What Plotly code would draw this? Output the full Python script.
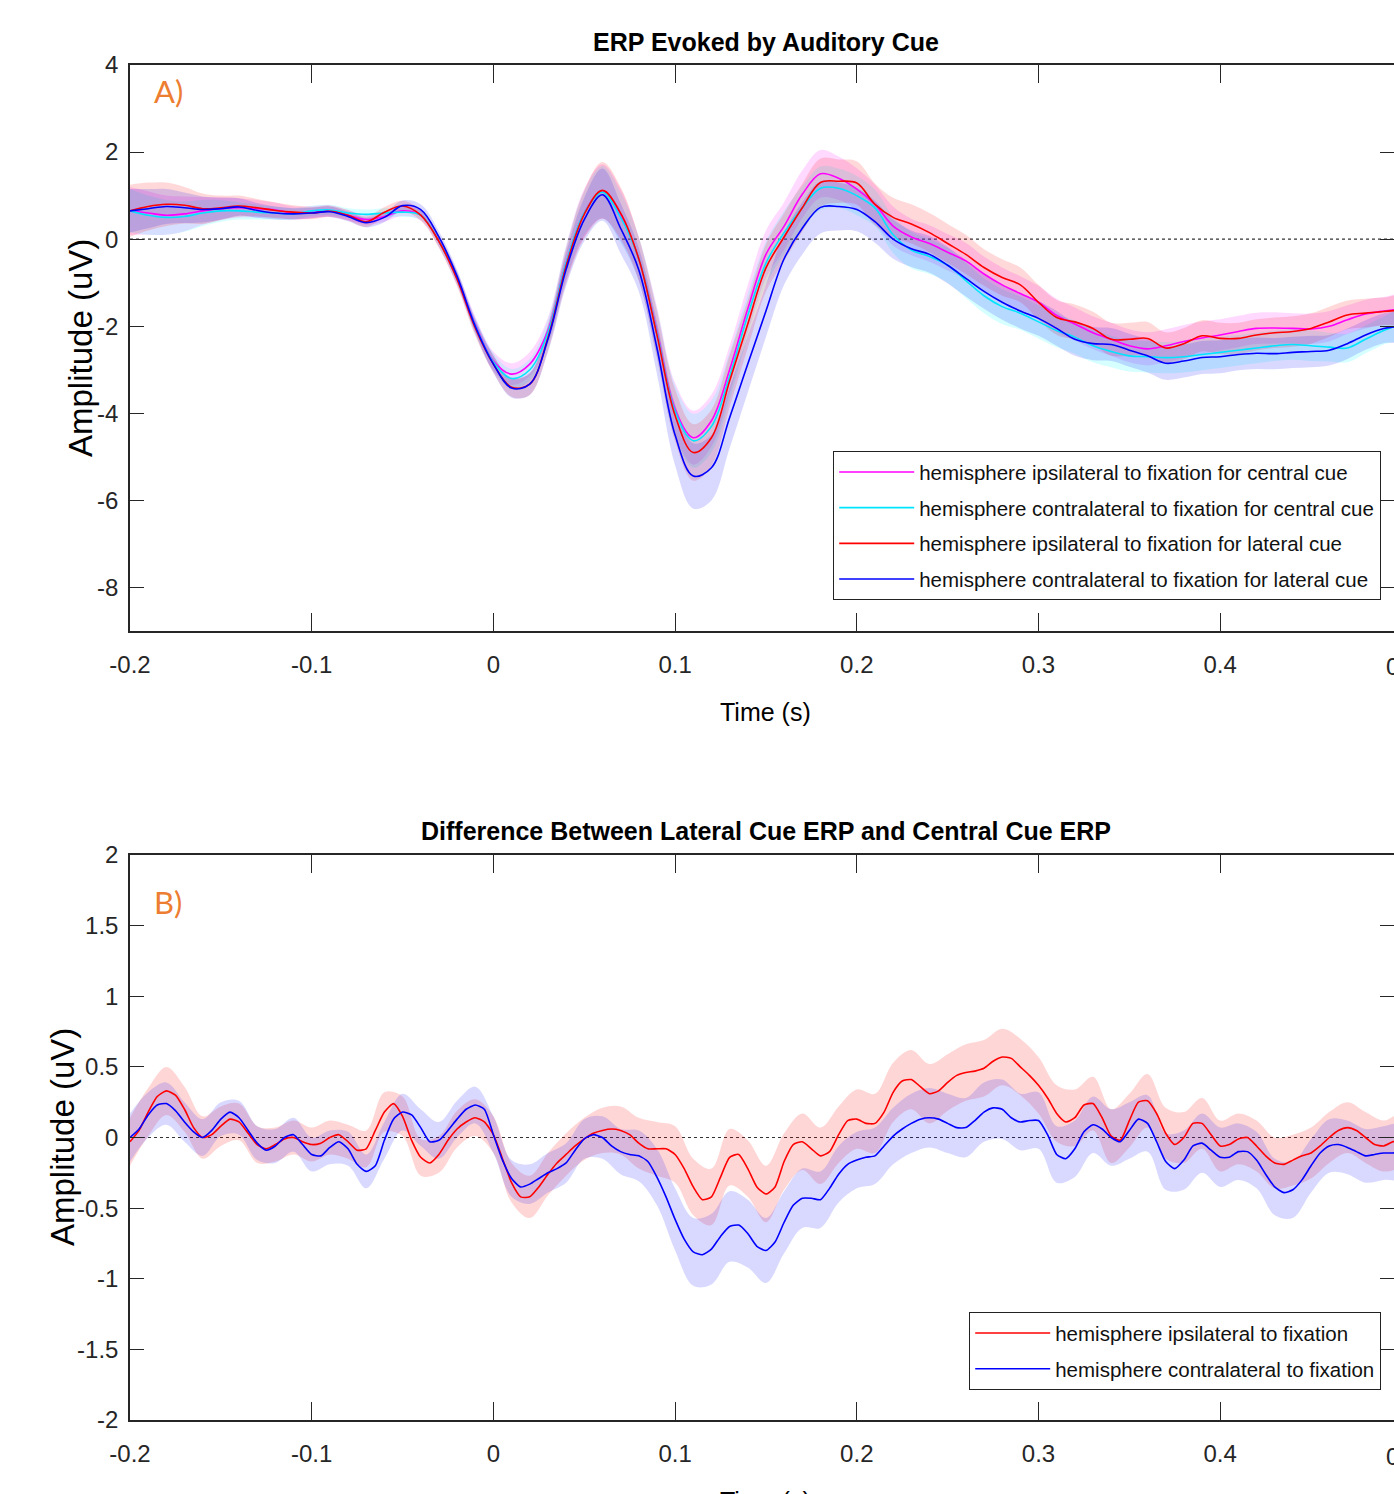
import numpy as np
import plotly.graph_objects as go

# ---------------- data ----------------
time_top = np.round(np.linspace(-0.2, 0.5, 71), 3)     # 10 ms grid
time_diff = np.round(np.linspace(-0.2, 0.5, 141), 3)   # 5 ms grid
time_diff_se = np.round(np.linspace(-0.2, 0.5, 71), 3)

ipsi_central = [0.65,0.60,0.55,0.58,0.65,0.70,0.72,0.70,0.67,0.60,
                0.62,0.65,0.55,0.45,0.52,0.65,0.55,-0.05,-0.90,-1.95,
                -2.80,-3.10,-2.87,-2.10,-0.55,0.60,1.10,0.55,-0.45,-2.10,
                -3.90,-4.56,-4.17,-3.00,-1.60,-0.35,0.30,1.03,1.50,1.40,
                1.15,0.80,0.30,0.05,-0.10,-0.30,-0.50,-0.80,-1.05,-1.25,
                -1.45,-1.75,-1.95,-2.15,-2.30,-2.45,-2.52,-2.45,-2.35,-2.27,
                -2.20,-2.12,-2.05,-2.04,-2.05,-2.06,-2.00,-1.85,-1.72,-1.65,-1.60]
contra_central = [0.65,0.55,0.50,0.52,0.60,0.65,0.65,0.62,0.60,0.58,
                  0.65,0.67,0.60,0.57,0.60,0.62,0.55,-0.05,-0.90,-1.98,
                  -2.82,-3.20,-3.00,-2.15,-0.55,0.60,1.08,0.50,-0.45,-2.15,
                  -3.95,-4.63,-4.30,-3.15,-1.75,-0.55,0.15,0.72,1.17,1.17,
                  1.00,0.72,0.10,-0.25,-0.40,-0.60,-0.95,-1.30,-1.55,-1.70,
                  -1.90,-2.10,-2.25,-2.45,-2.58,-2.68,-2.70,-2.72,-2.70,-2.65,
                  -2.60,-2.55,-2.50,-2.45,-2.42,-2.45,-2.48,-2.50,-2.30,-2.10,-1.95]
ipsi_lateral = [0.65,0.75,0.80,0.78,0.70,0.72,0.76,0.72,0.66,0.62,
                0.60,0.64,0.55,0.40,0.62,0.76,0.55,-0.05,-0.92,-2.04,
                -2.87,-3.40,-3.33,-2.27,-0.62,0.57,1.12,0.60,-0.45,-2.20,
                -4.05,-4.90,-4.56,-3.26,-1.95,-0.66,0.05,0.72,1.30,1.33,
                1.29,0.80,0.50,0.35,0.15,-0.10,-0.35,-0.65,-0.88,-1.05,
                -1.45,-1.80,-1.90,-2.05,-2.30,-2.30,-2.28,-2.50,-2.40,-2.22,
                -2.28,-2.28,-2.20,-2.15,-2.12,-2.05,-1.90,-1.74,-1.70,-1.66,-1.63]
contra_lateral = [0.65,0.70,0.75,0.72,0.68,0.70,0.74,0.66,0.60,0.58,
                  0.60,0.63,0.52,0.38,0.50,0.77,0.68,0.05,-0.85,-2.00,
                  -2.87,-3.42,-3.33,-2.30,-0.70,0.45,1.02,0.25,-0.70,-2.50,
                  -4.50,-5.44,-5.25,-4.10,-2.87,-1.65,-0.45,0.25,0.73,0.75,
                  0.68,0.40,0.00,-0.22,-0.35,-0.60,-0.90,-1.20,-1.45,-1.65,
                  -1.82,-2.05,-2.30,-2.40,-2.42,-2.55,-2.68,-2.85,-2.80,-2.72,
                  -2.70,-2.65,-2.62,-2.63,-2.60,-2.58,-2.55,-2.40,-2.20,-2.05,-2.00]

se_ipsi_central = [0.55,0.50,0.45,0.40,0.32,0.26,0.22,0.20,0.17,0.15,
                   0.14,0.13,0.12,0.12,0.12,0.12,0.12,0.14,0.16,0.18,
                   0.22,0.25,0.28,0.30,0.40,0.55,0.62,0.60,0.50,0.55,
                   0.60,0.62,0.60,0.55,0.55,0.55,0.55,0.55,0.55,0.50,
                   0.48,0.45,0.45,0.42,0.42,0.42,0.42,0.40,0.40,0.40,
                   0.38,0.38,0.38,0.38,0.38,0.38,0.38,0.38,0.38,0.38,
                   0.36,0.36,0.36,0.36,0.35,0.35,0.35,0.33,0.33,0.32,0.32]
se_contra_central = [0.50,0.45,0.40,0.35,0.30,0.25,0.20,0.17,0.15,0.13,
                     0.12,0.12,0.11,0.11,0.11,0.11,0.11,0.13,0.15,0.17,
                     0.20,0.22,0.25,0.30,0.38,0.50,0.60,0.58,0.50,0.55,
                     0.60,0.62,0.60,0.55,0.50,0.50,0.50,0.50,0.50,0.45,
                     0.45,0.42,0.42,0.42,0.40,0.40,0.40,0.40,0.40,0.38,
                     0.38,0.38,0.38,0.38,0.36,0.36,0.36,0.36,0.36,0.36,
                     0.36,0.35,0.35,0.35,0.35,0.35,0.33,0.33,0.32,0.32,0.32]
se_ipsi_lateral = [0.60,0.55,0.50,0.42,0.35,0.28,0.24,0.20,0.18,0.16,
                   0.14,0.13,0.12,0.12,0.12,0.12,0.12,0.14,0.16,0.18,
                   0.20,0.22,0.25,0.30,0.40,0.55,0.65,0.60,0.50,0.55,
                   0.60,0.65,0.65,0.60,0.55,0.55,0.55,0.55,0.55,0.50,
                   0.50,0.48,0.45,0.45,0.45,0.45,0.45,0.42,0.42,0.40,
                   0.40,0.40,0.40,0.38,0.38,0.38,0.38,0.36,0.36,0.36,
                   0.36,0.36,0.36,0.35,0.35,0.35,0.35,0.33,0.33,0.32,0.32]
se_contra_lateral = [0.50,0.45,0.40,0.35,0.30,0.25,0.20,0.17,0.15,0.13,
                     0.12,0.12,0.11,0.11,0.11,0.12,0.12,0.13,0.15,0.17,
                     0.20,0.22,0.25,0.30,0.38,0.50,0.60,0.58,0.50,0.60,
                     0.70,0.75,0.75,0.70,0.65,0.60,0.60,0.60,0.60,0.55,
                     0.50,0.48,0.45,0.42,0.42,0.42,0.42,0.40,0.40,0.40,
                     0.40,0.40,0.38,0.38,0.38,0.38,0.38,0.38,0.38,0.38,
                     0.38,0.36,0.36,0.36,0.36,0.36,0.35,0.35,0.34,0.34,0.34]

diff_ipsi = [-0.03,0.05,0.18,0.29,0.33,0.30,0.20,0.07,0.00,0.02,
             0.08,0.13,0.11,0.03,-0.05,-0.08,-0.05,-0.01,0.00,-0.03,
             -0.05,-0.04,0.00,0.02,-0.03,-0.09,-0.08,0.05,0.18,0.24,
             0.15,-0.02,-0.14,-0.18,-0.12,-0.02,0.06,0.11,0.14,0.11,
             0.02,-0.15,-0.32,-0.42,-0.42,-0.35,-0.26,-0.18,-0.12,-0.06,
             -0.01,0.03,0.05,0.06,0.05,0.02,-0.04,-0.08,-0.08,-0.08,
             -0.12,-0.22,-0.35,-0.44,-0.42,-0.28,-0.14,-0.12,-0.22,-0.35,
             -0.40,-0.35,-0.17,-0.05,-0.03,-0.08,-0.13,-0.10,0.02,0.12,
             0.13,0.10,0.10,0.18,0.32,0.40,0.41,0.36,0.31,0.33,
             0.39,0.44,0.46,0.47,0.49,0.54,0.57,0.56,0.50,0.44,
             0.37,0.28,0.17,0.11,0.14,0.23,0.24,0.14,0.01,-0.02,
             0.12,0.25,0.26,0.17,0.03,-0.05,0.00,0.10,0.10,0.02,
             -0.06,-0.05,-0.01,0.00,-0.06,-0.13,-0.18,-0.19,-0.16,-0.13,
             -0.11,-0.06,0.00,0.05,0.07,0.05,0.00,-0.05,-0.06,-0.03,-0.01]
diff_contra = [0.00,0.06,0.16,0.23,0.24,0.19,0.11,0.04,0.00,0.05,
               0.13,0.18,0.14,0.05,-0.04,-0.09,-0.06,0.00,0.02,-0.05,
               -0.12,-0.13,-0.07,-0.03,-0.08,-0.19,-0.24,-0.20,-0.02,0.13,
               0.18,0.16,0.07,-0.03,-0.02,0.05,0.13,0.20,0.23,0.20,
               0.02,-0.16,-0.29,-0.35,-0.33,-0.29,-0.25,-0.22,-0.18,-0.09,
               -0.01,0.02,0.00,-0.06,-0.10,-0.12,-0.13,-0.17,-0.28,-0.42,
               -0.58,-0.72,-0.81,-0.83,-0.79,-0.70,-0.63,-0.62,-0.68,-0.77,
               -0.80,-0.74,-0.60,-0.48,-0.43,-0.43,-0.44,-0.36,-0.26,-0.19,
               -0.16,-0.14,-0.13,-0.06,0.01,0.06,0.10,0.13,0.14,0.13,
               0.10,0.07,0.07,0.12,0.18,0.21,0.20,0.14,0.11,0.12,
               0.12,0.02,-0.12,-0.15,-0.08,0.04,0.09,0.06,0.00,-0.03,
               0.05,0.13,0.10,-0.03,-0.17,-0.22,-0.16,-0.06,-0.04,-0.09,
               -0.14,-0.14,-0.10,-0.10,-0.16,-0.26,-0.35,-0.39,-0.37,-0.30,
               -0.20,-0.11,-0.06,-0.05,-0.07,-0.10,-0.13,-0.12,-0.11,-0.11,-0.10]
se_diff_ipsi = [0.17,0.17,0.17,0.16,0.15,0.14,0.13,0.13,0.12,0.12,
                0.12,0.12,0.12,0.13,0.14,0.14,0.13,0.13,0.13,0.13,
                0.13,0.14,0.15,0.15,0.15,0.15,0.16,0.17,0.18,0.19,
                0.20,0.20,0.20,0.20,0.20,0.20,0.20,0.20,0.20,0.20,
                0.21,0.21,0.21,0.21,0.21,0.20,0.20,0.20,0.20,0.20,
                0.20,0.20,0.20,0.19,0.19,0.19,0.19,0.18,0.18,0.18,
                0.18,0.18,0.18,0.18,0.18,0.18,0.18,0.18,0.18,0.18,0.18]
se_diff_contra = [0.17,0.16,0.15,0.14,0.13,0.12,0.12,0.12,0.12,0.12,
                  0.12,0.12,0.12,0.12,0.13,0.13,0.13,0.13,0.13,0.13,
                  0.13,0.13,0.14,0.14,0.14,0.14,0.15,0.16,0.18,0.20,
                  0.22,0.24,0.25,0.25,0.24,0.23,0.22,0.21,0.20,0.20,
                  0.20,0.20,0.20,0.21,0.21,0.21,0.21,0.21,0.21,0.20,
                  0.20,0.20,0.20,0.20,0.20,0.20,0.20,0.20,0.21,0.21,
                  0.21,0.20,0.20,0.20,0.20,0.19,0.19,0.19,0.19,0.19,0.19]

x_ticks = [-0.2, -0.1, 0, 0.1, 0.2, 0.3, 0.4]
x_ticktext = ["-0.2", "-0.1", "0", "0.1", "0.2", "0.3", "0.4"]
y_ticks_top = [-8, -6, -4, -2, 0, 2, 4]
y_ticktext_top = ["-8", "-6", "-4", "-2", "0", "2", "4"]
y_ticks_bottom = [-2, -1.5, -1, -0.5, 0, 0.5, 1, 1.5, 2]
y_ticktext_bottom = ["-2", "-1.5", "-1", "-0.5", "0", "0.5", "1", "1.5", "2"]

top_names = ["hemisphere ipsilateral to fixation for central cue",
             "hemisphere contralateral to fixation for central cue",
             "hemisphere ipsilateral to fixation for lateral cue",
             "hemisphere contralateral to fixation for lateral cue"]
bottom_names = ["hemisphere ipsilateral to fixation",
                "hemisphere contralateral to fixation"]

# ---------------- style ----------------
W, H = 1394, 1494
L = 130
SANS = "Liberation Sans, Arial, Helvetica, sans-serif"
AXC = "#262626"
px_per_unit_x = 1817.0
x_max = -0.2 + (W - L) / px_per_unit_x

def band(x, mean, se, color):
    x = list(x)
    up = [m + s for m, s in zip(mean, se)]
    lo = [m - s for m, s in zip(mean, se)]
    return go.Scatter(x=x + x[::-1], y=up + lo[::-1], fill="toself",
                      fillcolor=color, line=dict(width=0, shape="spline"),
                      mode="lines", hoverinfo="skip", showlegend=False)

fig = go.Figure()

top_series = [ipsi_central, contra_central, ipsi_lateral, contra_lateral]
top_se = [se_ipsi_central, se_contra_central, se_ipsi_lateral, se_contra_lateral]
top_line_colors = ["#FF00FF", "#00E5FF", "#FF0000", "#0000FF"]
top_band_colors = ["rgba(255,0,255,0.15)", "rgba(0,255,255,0.16)",
                   "rgba(255,0,0,0.15)", "rgba(0,0,255,0.15)"]

for s, e, c in zip(top_series, top_se, top_band_colors):
    tr = band(time_top, s, e, c)
    tr.update(xaxis="x", yaxis="y")
    fig.add_trace(tr)
for i, (s, c, n) in enumerate(zip(top_series, top_line_colors, top_names)):
    fig.add_trace(go.Scatter(x=time_top, y=s, mode="lines", name=n,
                             line=dict(color=c, width=1.6, shape="spline"),
                             xaxis="x", yaxis="y", legend="legend",
                             legendgroup=f"top{i}"))

diff_series = [diff_ipsi, diff_contra]
diff_se = [se_diff_ipsi, se_diff_contra]
diff_line_colors = ["#FF0000", "#0000FF"]
diff_band_colors = ["rgba(255,0,0,0.16)", "rgba(0,0,255,0.15)"]
for s, e, c in zip(diff_series, diff_se, diff_band_colors):
    tr = band(time_diff_se, s[::2], e, c)
    tr.update(xaxis="x2", yaxis="y2")
    fig.add_trace(tr)
for i, (s, c, n) in enumerate(zip(diff_series, diff_line_colors, bottom_names)):
    fig.add_trace(go.Scatter(x=time_diff, y=s, mode="lines", name=n,
                             line=dict(color=c, width=1.6, shape="spline", smoothing=0.6),
                             xaxis="x2", yaxis="y2", legend="legend2",
                             legendgroup=f"diff{i}"))

axis_common = dict(showline=True, linecolor=AXC, linewidth=1.5, mirror="ticks",
                   ticks="inside", tickcolor=AXC, tickwidth=1.3,
                   showgrid=False, zeroline=False, automargin=False,
                   tickfont=dict(family=SANS, size=24, color=AXC))

top_dom = [1 - 631 / H, 1 - 65 / H]
bot_dom = [1 - 1420 / H, 1 - 855 / H]

legend_common = dict(xanchor="right", yanchor="top",
                     bgcolor="white", bordercolor="#222", borderwidth=1.2,
                     font=dict(family=SANS, size=20.5, color="#111"),
                     tracegroupgap=6, itemwidth=75)

fig.update_layout(
    width=W, height=H,
    margin=dict(l=L, r=0, t=0, b=0, autoexpand=False),
    paper_bgcolor="white", plot_bgcolor="white",
    xaxis=dict(domain=[0, 1], range=[-0.2, x_max], anchor="y",
               tickvals=x_ticks, ticktext=x_ticktext, ticklen=18,
               ticklabelstandoff=11, **axis_common),
    yaxis=dict(domain=top_dom, range=[-9, 4], anchor="x",
               tickvals=y_ticks_top, ticktext=y_ticktext_top, ticklen=14,
               ticklabelstandoff=5, **axis_common),
    xaxis2=dict(domain=[0, 1], range=[-0.2, x_max], anchor="y2",
                tickvals=x_ticks, ticktext=x_ticktext, ticklen=18,
                ticklabelstandoff=11, **axis_common),
    yaxis2=dict(domain=bot_dom, range=[-2, 2], anchor="x2",
                tickvals=y_ticks_bottom, ticktext=y_ticktext_bottom,
                ticklen=14, ticklabelstandoff=5, **axis_common),
    legend=dict(x=(1381 - L) / (W - L), y=1 - 451 / H, **legend_common),
    legend2=dict(x=(1381 - L) / (W - L), y=1 - 1312 / H, **legend_common),
    showlegend=True,
)

# zero reference lines (dotted)
for xr, yr in [("x", "y"), ("x2", "y2")]:
    fig.add_shape(type="line", xref=f"{xr} domain", yref=yr, x0=0, x1=1, y0=0, y1=0,
                  line=dict(color="#333", width=1.2, dash="dot"), layer="below")

cx = (765.5 - L) / (W - L)
ann = [
    dict(text="<b>ERP Evoked by Auditory Cue</b>", x=cx, y=1 - 42 / H,
         font=dict(family=SANS, size=25, color="black")),
    dict(text="<b>Difference Between Lateral Cue ERP and Central Cue ERP</b>", x=cx, y=1 - 831 / H,
         font=dict(family=SANS, size=25, color="black")),
    dict(text="Time (s)", x=cx, y=1 - 712 / H,
         font=dict(family=SANS, size=25, color="black")),
    dict(text="Time (s)", x=cx, y=1 - 1501 / H,
         font=dict(family=SANS, size=25, color="black")),
    dict(text="0.5", x=(1402 - L) / (W - L), y=1 - 666 / H,
         font=dict(family=SANS, size=24, color=AXC)),
    dict(text="0.5", x=(1402 - L) / (W - L), y=1 - 1456 / H,
         font=dict(family=SANS, size=24, color=AXC)),
]
for a in ann:
    fig.add_annotation(xref="paper", yref="paper", showarrow=False,
                       xanchor="center", yanchor="middle", **a)

for txt, xc, yc in [("Amplitude (uV)", 80, 348), ("Amplitude (uV)", 62, 1137)]:
    fig.add_annotation(text=txt, xref="paper", yref="paper",
                       x=(xc - L) / (W - L), y=1 - yc / H, textangle=-90,
                       showarrow=False, xanchor="center", yanchor="middle",
                       font=dict(family=SANS, size=33, color="black"))

for txt, yc in [("A)", 91), ("B)", 902)]:
    fig.add_annotation(text=txt, xref="paper", yref="paper",
                       x=(152 - L) / (W - L), y=1 - yc / H, showarrow=False,
                       xanchor="left", yanchor="middle",
                       font=dict(family="Lato, Open Sans, sans-serif", size=31, color="#ED7D31"))

fig.write_html("out.html", config={"displayModeBar": False},
               post_script="document.body.style.margin='0';document.body.style.overflow='hidden';")
